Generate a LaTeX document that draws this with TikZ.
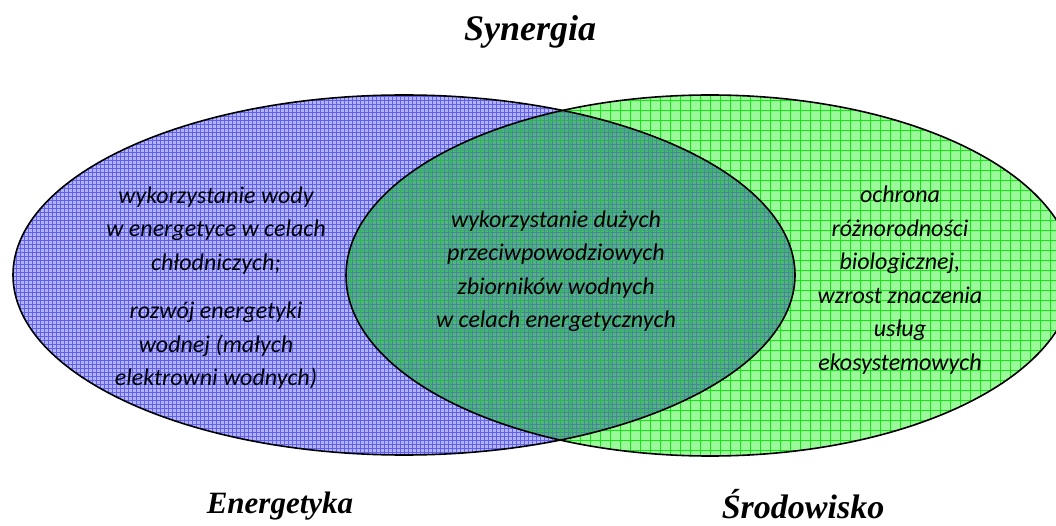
\documentclass[tikz,border=0pt]{standalone}
\usepackage{fontspec}
\newfontfamily\bodyfont{Carlito}
\newfontfamily\headfont{Liberation Serif}
\definecolor{blueBg}{RGB}{180,180,250}
\definecolor{blueLine}{RGB}{95,95,240}
\definecolor{greenBg}{RGB}{155,248,155}
\definecolor{greenLine}{RGB}{20,230,20}
\definecolor{overlapBg}{RGB}{60,150,125}
\begin{document}
\begin{tikzpicture}[x=1pt,y=-1pt,
  venntext/.style={font=\bodyfont\itshape\fontsize{24}{33.5}\selectfont, align=center, text=black, inner sep=0pt},
  setlabel/.style={font=\headfont\bfseries\itshape\fontsize{31}{36}\selectfont, anchor=base, inner sep=0pt},
  titlelabel/.style={font=\headfont\bfseries\itshape\fontsize{36}{40}\selectfont, anchor=base, inner sep=0pt},
  outline/.style={draw=black, line width=1.6pt},
  bluegrid/.style={draw=blueLine, line width=0.6pt},
  greengrid/.style={draw=greenLine, line width=0.8pt}]
\useasboundingbox (0,0) rectangle (1056,526);
\clip (0,0) rectangle (1056,526);
% fills
\fill[blueBg] (404,275) ellipse [x radius=391pt, y radius=180pt];
\fill[greenBg] (710,275.5) ellipse [x radius=364pt, y radius=180.5pt];
% green pattern
\begin{scope}
  \clip (710,275.5) ellipse [x radius=364pt, y radius=180.5pt];
  \draw[greengrid, step=10pt] (0,0) grid (1056,526);
\end{scope}
% blue pattern
\begin{scope}
  \clip (404,275) ellipse [x radius=391pt, y radius=180pt];
  \draw[bluegrid, step=4pt] (0,0) grid (1056,526);
\end{scope}
% overlap
\begin{scope}
  \clip (404,275) ellipse [x radius=391pt, y radius=180pt];
  \clip (710,275.5) ellipse [x radius=364pt, y radius=180.5pt];
  \fill[overlapBg, opacity=0.72] (0,0) rectangle (1056,526);
  \draw[greengrid, draw=greenLine!40!overlapBg, line width=0.6pt, step=10pt] (0,0) grid (1056,526);
\end{scope}
% outlines
\draw[outline] (404,275) ellipse [x radius=391pt, y radius=180pt];
\draw[outline] (710,275.5) ellipse [x radius=364pt, y radius=180.5pt];
% texts
\node[venntext] (leftText) at (216,288) {wykorzystanie wody\\ w energetyce w celach\\ chłodniczych;\\[15pt] rozwój energetyki\\ wodnej (małych\\ elektrowni wodnych)};
\node[venntext] (midText) at (556,271) {wykorzystanie dużych\\ przeciwpowodziowych\\ zbiorników wodnych\\ w celach energetycznych};
\node[venntext] (rightText) at (900,280) {ochrona\\ różnorodności\\ biologicznej,\\ wzrost znaczenia\\ usług\\ ekosystemowych};
\node[titlelabel] (title) at (530,41) {Synergia};
\node[setlabel] (energetyka) at (280,513) {Energetyka};
\node[setlabel, font=\headfont\bfseries\itshape\fontsize{34}{38}\selectfont] (srodowisko) at (803,518) {Środowisko};
\end{tikzpicture}
\end{document}
